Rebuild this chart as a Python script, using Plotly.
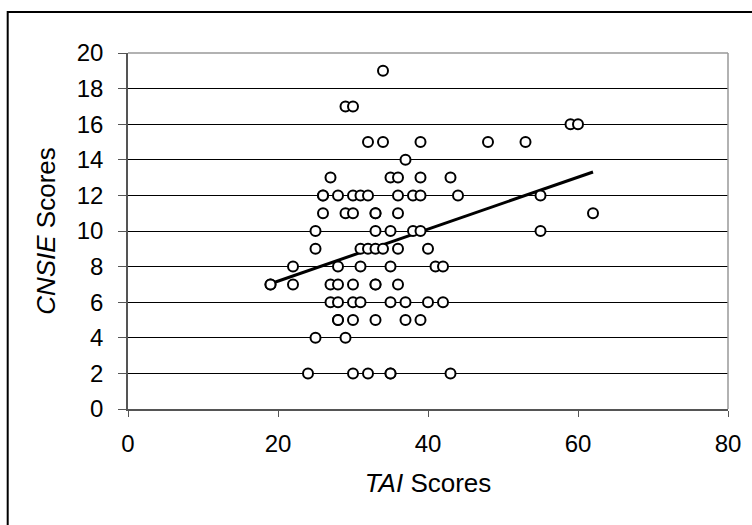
import numpy as np
import plotly.graph_objects as go

# TAI scores grouped by CNSIE score
cnsie_levels = [19, 17, 16, 15, 14, 13, 12, 11, 10, 9, 8, 7, 6, 5, 4, 2]
tai_by_level = [
    [34],
    [29, 30],
    [59, 60],
    [32, 34, 39, 48, 53],
    [37],
    [27, 35, 36, 39, 43],
    [26, 26, 28, 30, 31, 32, 36, 38, 39, 44, 55],
    [26, 29, 30, 33, 33, 36, 62],
    [25, 33, 35, 38, 39, 55],
    [25, 31, 32, 33, 34, 36, 40],
    [22, 28, 31, 35, 41, 42],
    [19, 19, 22, 27, 28, 30, 33, 33, 36],
    [27, 28, 30, 31, 35, 37, 40, 42],
    [28, 28, 30, 33, 37, 39],
    [25, 29],
    [24, 30, 32, 35, 35, 43],
]

x_ticks = [0, 20, 40, 60, 80]
y_ticks = [0, 2, 4, 6, 8, 10, 12, 14, 16, 18, 20]

tai = np.array([x for xs in tai_by_level for x in xs], dtype=float)
cnsie = np.array([lvl for lvl, xs in zip(cnsie_levels, tai_by_level) for _ in xs], dtype=float)

# least-squares trend line over the observed TAI range
slope, intercept = np.polyfit(tai, cnsie, 1)
line_x = np.array([tai.min(), tai.max()])
line_y = slope * line_x + intercept

FONT = "Arial, 'Liberation Sans', sans-serif"

fig = go.Figure()
fig.add_trace(go.Scatter(
    x=line_x, y=line_y, mode="lines",
    line=dict(color="black", width=3),
    hoverinfo="skip", showlegend=False,
))
fig.add_trace(go.Scatter(
    x=tai, y=cnsie, mode="markers",
    marker=dict(symbol="circle", size=10, color="white",
                line=dict(color="black", width=2)),
    showlegend=False,
))

fig.update_xaxes(
    range=[0, 80], tickvals=x_ticks, ticks="outside", ticklen=6,
    tickcolor="#555", showline=True, linecolor="#555", linewidth=1.5,
    mirror=False, showgrid=False, zeroline=False,
    tickfont=dict(family=FONT, size=24, color="black"),
    ticklabelstandoff=6,
    title=dict(text="<i>TAI</i> Scores", font=dict(family=FONT, size=26, color="black"),
               standoff=18),
)
fig.update_yaxes(
    range=[0, 20], tickvals=y_ticks, ticks="outside", ticklen=8,
    tickcolor="#555", showline=True, linecolor="#555", linewidth=1.5,
    showgrid=True, gridcolor="black", gridwidth=1, zeroline=False,
    tickfont=dict(family=FONT, size=24, color="black"),
    ticklabelstandoff=10,
    title=dict(text="<i>CNSIE</i> Scores", font=dict(family=FONT, size=26, color="black"),
               standoff=14),
)

shapes = [
    # plot-area border on top and right
    dict(type="line", xref="paper", yref="paper", x0=0, x1=1, y0=1, y1=1,
         line=dict(color="#999", width=1.5), layer="above"),
    dict(type="line", xref="paper", yref="paper", x0=1, x1=1, y0=0, y1=1,
         line=dict(color="#999", width=1.5), layer="above"),
    # outer chart frame
    dict(type="rect", xref="paper", yref="paper", x0=-0.2005, x1=1.1, y0=-0.4, y1=1.115,
         line=dict(color="black", width=2), fillcolor="rgba(0,0,0,0)"),
]

fig.update_layout(
    width=752, height=525,
    margin=dict(l=128, r=24, t=53, b=116),
    paper_bgcolor="white", plot_bgcolor="white",
    shapes=shapes,
    font=dict(family=FONT, color="black"),
)

fig.write_html("out.html")
